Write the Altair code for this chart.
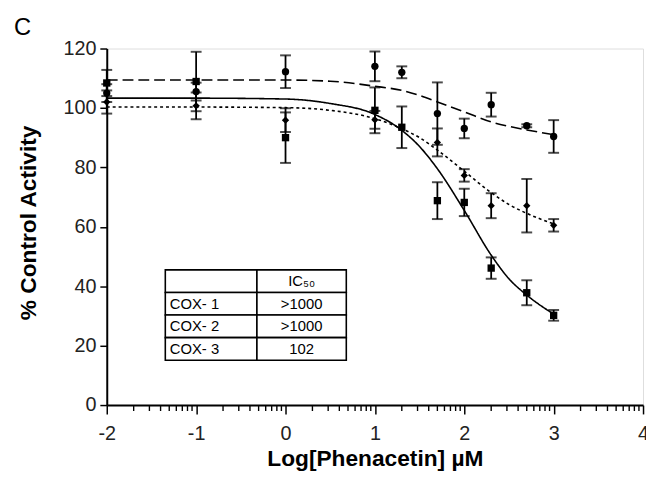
import altair as alt
import pandas as pd
import numpy as np

# ---------------- data ----------------
series = ["COX-1", "COX-2", "COX-3"]

cox1_x = [-2, -1, 0, 1, 1.301, 1.699, 2, 2.301, 2.699, 3]
cox1_y = [105.0, 105.5, 112.2, 114.0, 112.0, 98.1, 93.1, 101.1, 94.0, 90.4]
cox1_err = [3.0, 3.0, 5.5, 5.0, 2.0, 10.5, 3.3, 4.0, 0.5, 5.5]

cox2_x = [-2, -1, 0, 1, 1.699, 2, 2.301, 2.699, 3]
cox2_y = [102.0, 100.7, 95.9, 96.0, 88.4, 77.3, 67.1, 67.1, 60.5]
cox2_err = [3.9, 4.5, 4.0, 3.0, 4.7, 2.1, 4.2, 9.0, 2.1]

cox3_x = [-2, -1, 0, 1, 1.301, 1.699, 2, 2.301, 2.699, 3]
cox3_y = [108.4, 108.9, 90.0, 99.2, 93.5, 68.8, 68.2, 46.1, 37.8, 30.2]
cox3_err = [4.4, 10.0, 8.5, 7.7, 7.0, 6.2, 4.6, 3.6, 4.2, 1.8]

# fitted curves
curve_x = [-2, -1, 0, 0.5, 1, 1.3, 1.5, 1.7, 2, 2.3, 2.5, 2.7, 3]
cox1_fit = [109.4, 109.4, 109.4, 109.0, 107.3, 105.9, 104.2, 102.0, 98.7, 95.3, 93.8, 92.6, 91.0]
cox2_fit = [100.3, 100.3, 100.1, 99.2, 96.4, 93.0, 90.0, 85.8, 78.7, 71.5, 67.5, 64.5, 61.0]
cox3_fit = [103.3, 103.3, 103.0, 101.5, 97.8, 92.5, 87.0, 79.5, 65.5, 50.5, 42.5, 37.0, 30.6]

# inset table
table_rows = ["", "COX- 1", "COX- 2", "COX- 3"]
table_ic50 = ["IC₅₀", ">1000", ">1000", "102"]

x_major = [-2, -1, 0, 1, 2, 3, 4]
y_ticks = [0, 20, 40, 60, 80, 100, 120]

# ---------------- frames ----------------
pts = []
for s, xs_, ys_, es in [(series[0], cox1_x, cox1_y, cox1_err),
                        (series[1], cox2_x, cox2_y, cox2_err),
                        (series[2], cox3_x, cox3_y, cox3_err)]:
    for x, y, e in zip(xs_, ys_, es):
        pts.append({"series": s, "x": x, "y": y, "lo": y - e, "hi": y + e})
pts = pd.DataFrame(pts)

fit = []
for s, ys_ in zip(series, [cox1_fit, cox2_fit, cox3_fit]):
    for x, y in zip(curve_x, ys_):
        fit.append({"series": s, "x": x, "y": y})
fit = pd.DataFrame(fit)

# table layout (in data units)
col_edges = [-1.345, -0.32, 0.68]
row_edges = [45.5, 37.9, 30.3, 22.7, 15.1]
cells, texts = [], []
for i, (name, val) in enumerate(zip(table_rows, table_ic50)):
    for j in range(2):
        cells.append({"x": col_edges[j], "x2": col_edges[j + 1],
                      "y": row_edges[i], "y2": row_edges[i + 1]})
    yc = (row_edges[i] + row_edges[i + 1]) / 2
    texts.append({"x": col_edges[0] + 0.05, "y": yc, "t": name, "a": "left"})
    texts.append({"x": (col_edges[1] + col_edges[2]) / 2, "y": yc, "t": val, "a": "center"})
cells = pd.DataFrame(cells)
texts = pd.DataFrame(texts)

# log-scale minor ticks between the integer (decade) ticks
minor = pd.DataFrame({"mx": [round(d + float(np.log10(k)), 4) for d in x_major[:-1] for k in range(2, 10)]})

FONT = "Liberation Sans"

x_axis = alt.Axis(
    values=x_major, labelExpr="'' + datum.value",
    tickSize=9, tickColor="black", tickWidth=1.5, domainColor="black", domainWidth=2,
    labelFont=FONT, labelFontSize=20, labelColor="#222", labelPadding=10,
    labelOverlap=False, labelFlush=False, grid=False,
    titleFont=FONT, titleFontSize=23, titleFontWeight="bold", titleColor="black",
    titleY=61, titleBaseline="alphabetic",
)
y_axis = alt.Axis(
    values=y_ticks, tickSize=7, tickColor="black", tickWidth=1.5,
    domainColor="black", domainWidth=2,
    labelFont=FONT, labelFontSize=20, labelColor="#222", labelPadding=4,
    grid=False,
    titleFont=FONT, titleFontSize=23, titleFontWeight="bold", titleColor="black",
    titleX=-72, titleY=176, titleBaseline="alphabetic",
)
xs = alt.Scale(domain=[-2, 4], nice=False, zero=False)
ys = alt.Scale(domain=[0, 120], nice=False, zero=True)


def X(f):
    return alt.X(f"{f}:Q", scale=xs, axis=x_axis, title="Log[Phenacetin] µM")


def Y(f):
    return alt.Y(f"{f}:Q", scale=ys, axis=y_axis, title="% Control Activity")


dash = alt.StrokeDash("series:N", scale=alt.Scale(domain=series, range=[[11, 5], [3, 3], [1, 0]]), legend=None)
shape = alt.Shape("series:N", scale=alt.Scale(domain=series, range=["circle", "diamond", "square"]), legend=None)

lines = alt.Chart(fit).mark_line(color="black", strokeWidth=1.6, interpolate="monotone").encode(
    x=X("x"), y=Y("y"), strokeDash=dash, detail="series:N")

bars = alt.Chart(pts).mark_rule(color="black", strokeWidth=1.8).encode(
    x=X("x"), y=Y("lo"), y2="hi:Q")
cap_lo = alt.Chart(pts).mark_tick(color="black", orient="horizontal", size=11, thickness=2).encode(
    x=X("x"), y=Y("lo"))
cap_hi = alt.Chart(pts).mark_tick(color="black", orient="horizontal", size=11, thickness=2).encode(
    x=X("x"), y=Y("hi"))
points = alt.Chart(pts).mark_point(filled=True, color="black", opacity=1, size=55).encode(
    x=X("x"), y=Y("y"), shape=shape)

minor_ticks = alt.Chart(minor).mark_tick(
    color="black", orient="vertical", size=5, thickness=1.4, opacity=1).encode(
    x=X("mx"), y=alt.value(364.5))

table_cells = alt.Chart(cells).mark_rect(fill="white", stroke="black", strokeWidth=1.6).encode(
    x=X("x"), x2="x2:Q", y=Y("y"), y2="y2:Q")
table_left = alt.Chart(texts[texts.a == "left"]).mark_text(
    align="left", baseline="middle", font=FONT, fontSize=15, color="black").encode(
    x=X("x"), y=Y("y"), text="t:N")
table_center = alt.Chart(texts[texts.a == "center"]).mark_text(
    align="center", baseline="middle", font=FONT, fontSize=15, color="black").encode(
    x=X("x"), y=Y("y"), text="t:N")

panel = alt.Chart(pd.DataFrame({"t": ["C"]})).mark_text(
    align="left", baseline="alphabetic", font=FONT, fontSize=24, color="black").encode(
    x=alt.value(-94), y=alt.value(-14), text="t:N")

chart = alt.layer(lines, bars, cap_lo, cap_hi, points, minor_ticks,
                  table_cells, table_left, table_center, panel).properties(
    width=543, height=361,
    autosize=alt.AutoSizeParams(type="none"),
    padding={"left": 100, "top": 38, "right": 3, "bottom": 85},
).configure_view(stroke=None).configure(background="white")

chart.save("out.html", embed_options={"renderer": "svg", "actions": False})
